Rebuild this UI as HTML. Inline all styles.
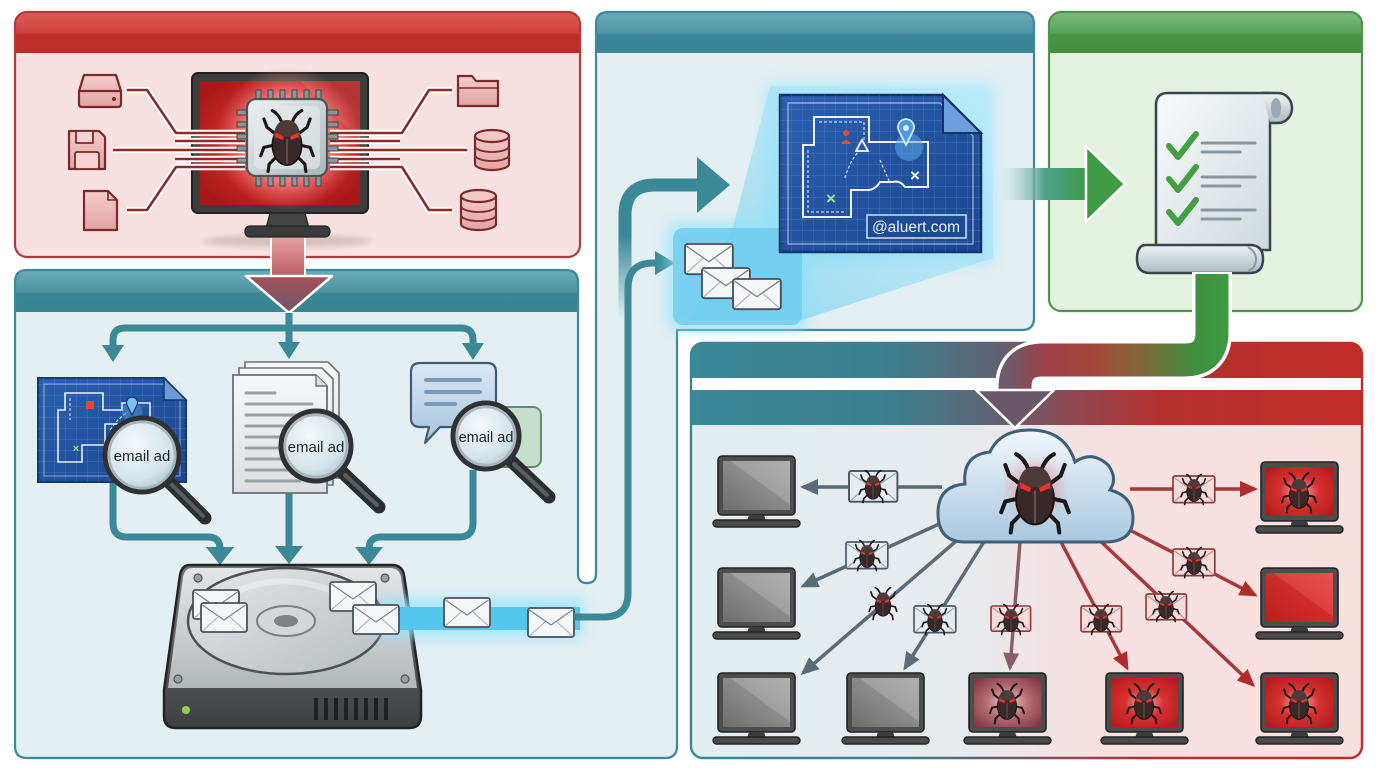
<!DOCTYPE html>
<html><head><meta charset="utf-8"><style>html,body{margin:0;padding:0;background:#fff}svg{display:block}</style></head>
<body>
<svg width="1376" height="768" viewBox="0 0 1376 768" xmlns="http://www.w3.org/2000/svg" font-family="Liberation Sans, sans-serif">
<defs>
<linearGradient id="gRedHdr" x1="0" y1="0" x2="0" y2="1"><stop offset="0" stop-color="#dc5b57"/><stop offset=".5" stop-color="#d0433f"/><stop offset=".56" stop-color="#bd2d2a"/><stop offset="1" stop-color="#bd2d2a"/></linearGradient>
<linearGradient id="gTealHdr" x1="0" y1="0" x2="0" y2="1"><stop offset="0" stop-color="#6aaab8"/><stop offset=".5" stop-color="#4f97a6"/><stop offset=".56" stop-color="#3b8696"/><stop offset="1" stop-color="#3a8494"/></linearGradient>
<linearGradient id="gGreenHdr" x1="0" y1="0" x2="0" y2="1"><stop offset="0" stop-color="#7dba7c"/><stop offset=".5" stop-color="#5aa45a"/><stop offset=".56" stop-color="#449342"/><stop offset="1" stop-color="#428f40"/></linearGradient>
<linearGradient id="gBRHdr" gradientUnits="userSpaceOnUse" x1="691" y1="0" x2="1362" y2="0"><stop offset="0" stop-color="#3a8797"/><stop offset=".3" stop-color="#3d7f8e"/><stop offset=".45" stop-color="#5e6272"/><stop offset=".56" stop-color="#8c4a55"/><stop offset=".7" stop-color="#b3302f"/><stop offset="1" stop-color="#c02c2a"/></linearGradient>
<linearGradient id="gBRBody" gradientUnits="userSpaceOnUse" x1="691" y1="0" x2="1362" y2="0"><stop offset="0" stop-color="#e1eef2"/><stop offset=".4" stop-color="#e7ebee"/><stop offset=".6" stop-color="#f7e1e1"/><stop offset="1" stop-color="#f9e1e0"/></linearGradient>
<radialGradient id="gScr" cx=".5" cy=".5" r=".6"><stop offset="0" stop-color="#ff8a8a"/><stop offset=".35" stop-color="#dc3232"/><stop offset="1" stop-color="#a81818"/></radialGradient>
<radialGradient id="gChipGlow" cx=".5" cy=".5" r=".5"><stop offset="0" stop-color="#fff" stop-opacity=".9"/><stop offset=".6" stop-color="#ffb0b0" stop-opacity=".6"/><stop offset="1" stop-color="#ff8080" stop-opacity="0"/></radialGradient>
<linearGradient id="gChip" x1="0" y1="0" x2="1" y2="1"><stop offset="0" stop-color="#eef2f4"/><stop offset="1" stop-color="#aab6bc"/></linearGradient>
<linearGradient id="gIcon" x1="0" y1="0" x2="0" y2="1"><stop offset="0" stop-color="#f4cccb"/><stop offset="1" stop-color="#e2a3a2"/></linearGradient>
<linearGradient id="gShaft" x1="0" y1="0" x2="0" y2="1"><stop offset="0" stop-color="#e9a0a2"/><stop offset="1" stop-color="#b85a60"/></linearGradient>
<linearGradient id="gHead" x1="0" y1="0" x2="0" y2="1"><stop offset="0" stop-color="#a5505a"/><stop offset="1" stop-color="#6a5a68"/></linearGradient>
<linearGradient id="gBp" x1="0" y1="0" x2="1" y2="1"><stop offset="0" stop-color="#2a5fae"/><stop offset="1" stop-color="#1b4690"/></linearGradient>
<pattern id="grid" width="11" height="11" patternUnits="userSpaceOnUse"><path d="M11,0 V11 M0,11 H11" stroke="#5a8bd2" stroke-width=".7" fill="none" opacity=".7"/></pattern>
<radialGradient id="gLens" cx=".4" cy=".35" r=".7"><stop offset="0" stop-color="#f4f9fb"/><stop offset=".7" stop-color="#d3e3ea"/><stop offset="1" stop-color="#a9c2cc"/></radialGradient>
<linearGradient id="gPage" x1="0" y1="0" x2="0" y2="1"><stop offset="0" stop-color="#f6f7f8"/><stop offset="1" stop-color="#dcdfe1"/></linearGradient>
<linearGradient id="gBubble" x1="0" y1="0" x2="0" y2="1"><stop offset="0" stop-color="#dbe8f4"/><stop offset="1" stop-color="#a6c4de"/></linearGradient>
<linearGradient id="gHddTop" x1="0" y1="0" x2="0" y2="1"><stop offset="0" stop-color="#e3e6e8"/><stop offset="1" stop-color="#b3b8bb"/></linearGradient>
<linearGradient id="gHddFront" x1="0" y1="0" x2="0" y2="1"><stop offset="0" stop-color="#76797c"/><stop offset="1" stop-color="#3d4043"/></linearGradient>
<linearGradient id="gPlatter" x1="0" y1="0" x2="1" y2="1"><stop offset="0" stop-color="#e4e7e9"/><stop offset="1" stop-color="#b9bec1"/></linearGradient>
<linearGradient id="gUpArrow" gradientUnits="userSpaceOnUse" x1="0" y1="320" x2="0" y2="235"><stop offset="0" stop-color="#3a8898" stop-opacity="0"/><stop offset="1" stop-color="#3a8898"/></linearGradient>
<linearGradient id="gWedge" x1="0" y1="1" x2="1" y2="0"><stop offset="0" stop-color="#5cc9ee" stop-opacity=".85"/><stop offset="1" stop-color="#b9ebfa" stop-opacity=".5"/></linearGradient>
<linearGradient id="gGreenShaft" gradientUnits="userSpaceOnUse" x1="1000" y1="0" x2="1090" y2="0"><stop offset="0" stop-color="#cfe9e6" stop-opacity=".2"/><stop offset=".5" stop-color="#4fa08a"/><stop offset="1" stop-color="#3e9a46"/></linearGradient>
<linearGradient id="gSheet" x1="0" y1="0" x2="1" y2="1"><stop offset="0" stop-color="#f9fbfc"/><stop offset="1" stop-color="#cfd9de"/></linearGradient>
<linearGradient id="gCurl" x1="0" y1="0" x2="0" y2="1"><stop offset="0" stop-color="#eef2f4"/><stop offset="1" stop-color="#aebbc2"/></linearGradient>
<linearGradient id="gGR" gradientUnits="userSpaceOnUse" x1="1230" y1="0" x2="995" y2="0"><stop offset="0" stop-color="#3f9a42"/><stop offset=".15" stop-color="#3f9040"/><stop offset=".35" stop-color="#7a6a3a"/><stop offset=".57" stop-color="#a3483a"/><stop offset=".78" stop-color="#a04048"/><stop offset=".95" stop-color="#6e5a6a"/></linearGradient>
<linearGradient id="gCloud" x1="0" y1="0" x2="0" y2="1"><stop offset="0" stop-color="#f2f7fb"/><stop offset="1" stop-color="#a9c8df"/></linearGradient>
<linearGradient id="gGray" x1="0" y1="1" x2="1" y2="0"><stop offset="0" stop-color="#6e6e6e"/><stop offset=".55" stop-color="#8c8c8c"/><stop offset=".56" stop-color="#a0a0a0"/><stop offset="1" stop-color="#b0b0b0"/></linearGradient>
<radialGradient id="gRedBug" cx=".5" cy=".5" r=".65"><stop offset="0" stop-color="#f7b0b0"/><stop offset=".45" stop-color="#d83030"/><stop offset="1" stop-color="#b41c1c"/></radialGradient>
<radialGradient id="gMauve" cx=".5" cy=".5" r=".65"><stop offset="0" stop-color="#ecc9cb"/><stop offset=".5" stop-color="#b66a72"/><stop offset="1" stop-color="#7e3a44"/></radialGradient>
<linearGradient id="gRedFlat" x1="0" y1="1" x2="1" y2="0"><stop offset="0" stop-color="#bf1e1e"/><stop offset=".55" stop-color="#cf2c2c"/><stop offset=".56" stop-color="#dc4040"/><stop offset="1" stop-color="#e45250"/></linearGradient>
<filter id="blur6" x="-30%" y="-30%" width="160%" height="160%"><feGaussianBlur stdDeviation="6"/></filter>
<filter id="blur3" x="-30%" y="-30%" width="160%" height="160%"><feGaussianBlur stdDeviation="3"/></filter>
<marker id="mG" markerUnits="userSpaceOnUse" markerWidth="18" markerHeight="16" refX="15" refY="8" orient="auto"><path d="M0,0 L18,8 L0,16 Z" fill="#5b6b75"/></marker>
<marker id="mM" markerUnits="userSpaceOnUse" markerWidth="18" markerHeight="16" refX="15" refY="8" orient="auto"><path d="M0,0 L18,8 L0,16 Z" fill="#8b5d66"/></marker>
<marker id="mR" markerUnits="userSpaceOnUse" markerWidth="18" markerHeight="16" refX="15" refY="8" orient="auto"><path d="M0,0 L18,8 L0,16 Z" fill="#b02c2c"/></marker>
<g id="bug">
 <g stroke="#1c1616" stroke-width="3" fill="none" stroke-linecap="round" stroke-linejoin="round">
  <path d="M-5,-17 Q-8,-25 -14,-28"/><path d="M5,-17 Q8,-25 14,-28"/>
  <path d="M-11,-6 L-19,-12 L-22,-20"/><path d="M11,-6 L19,-12 L22,-20"/>
  <path d="M-13,5 L-22,7 L-25,15"/><path d="M13,5 L22,7 L25,15"/>
  <path d="M-10,16 L-17,23 L-18,30"/><path d="M10,16 L17,23 L18,30"/>
 </g>
 <ellipse cx="0" cy="5" rx="14" ry="19" fill="#3a2828" stroke="#191212" stroke-width="1.5"/>
 <path d="M-13,-1 Q-12,-19 0,-19 Q12,-19 13,-1 Q0,-6 -13,-1Z" fill="#4f3a3a"/>
 <path d="M-11,-7 L-3,-3 L-4,0 L-11,-3Z" fill="#ff2f2f"/>
 <path d="M11,-7 L3,-3 L4,0 L11,-3Z" fill="#ff2f2f"/>
 <line x1="0" y1="-1" x2="0" y2="23" stroke="#6b5353" stroke-width="1.5"/>
</g>
<g id="env">
 <rect x="0" y="0" width="46" height="29" rx="2.5" fill="#f4f6f8" stroke="#46525a" stroke-width="1.8"/>
 <path d="M1.5,2 L23,17 L44.5,2" fill="none" stroke="#7d878d" stroke-width="1.3"/>
 <path d="M2,27.5 L17,14 M44,27.5 L29,14" stroke="#a9b1b6" stroke-width="1.1"/>
</g>
<g id="envB">
 <rect x="0" y="0" width="44" height="28" rx="2" fill="#e5edf2" stroke="#4d5a63" stroke-width="1.8"/>
 <path d="M1.5,2 L22,16 L42.5,2 M2,26.5 L16,14 M42,26.5 L28,14" fill="none" stroke="#98a4ab" stroke-width="1.1"/>
</g>
<g id="envP">
 <rect x="0" y="0" width="44" height="28" rx="2" fill="#f6dcdc" stroke="#8e3c3c" stroke-width="1.8"/>
 <path d="M1.5,2 L22,16 L42.5,2 M2,26.5 L16,14 M42,26.5 L28,14" fill="none" stroke="#c08a8a" stroke-width="1.1"/>
</g>
<g id="monF">
 <rect x="0" y="0" width="77" height="59" rx="4" fill="#4d4d4d" stroke="#222" stroke-width="1.6"/>
 <path d="M31,59 H46 L48,65 H29 Z" fill="#3c3c3c"/>
 <rect x="-5" y="64" width="87" height="7" rx="3.5" fill="#4a4a4a" stroke="#222" stroke-width="1.4"/>
</g>
</defs>

<!-- ========== RED PANEL ========== -->
<rect x="15" y="12" width="565" height="245" rx="12" fill="#f8e2e1"/>
<path d="M15,53 V24 Q15,12 27,12 H568 Q580,12 580,24 V53 Z" fill="url(#gRedHdr)"/>
<rect x="15" y="12" width="565" height="245" rx="12" fill="none" stroke="#b3393a" stroke-width="2.2"/>

<!-- ========== LEFT TEAL + MIDDLE union ========== -->
<path d="M27,270 H566 Q578,270 578,282 V574 Q578,583 587,583 Q596,583 596,574 V24 Q596,12 608,12 H1022 Q1034,12 1034,24 V318 Q1034,330 1022,330 H677 V746 Q677,758 665,758 H27 Q15,758 15,746 V282 Q15,270 27,270 Z" fill="#e3eff2"/>
<path d="M15,312 V282 Q15,270 27,270 H566 Q578,270 578,282 V312 Z" fill="url(#gTealHdr)"/>
<path d="M596,53 V24 Q596,12 608,12 H1022 Q1034,12 1034,24 V53 Z" fill="url(#gTealHdr)"/>
<path d="M27,270 H566 Q578,270 578,282 V574 Q578,583 587,583 Q596,583 596,574 V24 Q596,12 608,12 H1022 Q1034,12 1034,24 V318 Q1034,330 1022,330 H677 V746 Q677,758 665,758 H27 Q15,758 15,746 V282 Q15,270 27,270 Z" fill="none" stroke="#3c8999" stroke-width="2.2"/>

<!-- ========== GREEN PANEL ========== -->
<rect x="1049" y="12" width="313" height="299" rx="12" fill="#e5f2e1"/>
<path d="M1049,53 V24 Q1049,12 1061,12 H1350 Q1362,12 1362,24 V53 Z" fill="url(#gGreenHdr)"/>
<rect x="1049" y="12" width="313" height="299" rx="12" fill="none" stroke="#4e944e" stroke-width="2.2"/>

<!-- ========== BOTTOM RIGHT PANEL ========== -->
<rect x="691" y="343" width="671" height="415" rx="12" fill="url(#gBRBody)"/>
<path d="M691,425 V355 Q691,343 703,343 H1350 Q1362,343 1362,355 V425 Z" fill="url(#gBRHdr)"/>
<rect x="692" y="378" width="305" height="12" fill="#fff"/>
<rect x="1032" y="378" width="329" height="12" fill="#fff"/>
<rect x="691" y="343" width="671" height="415" rx="12" fill="none" stroke="url(#gBRHdr)" stroke-width="2.4"/>

<!-- ========== RED PANEL CONTENT ========== -->
<ellipse cx="287" cy="241" rx="85" ry="6" fill="#000" opacity=".15" filter="url(#blur3)"/>
<rect x="192" y="73" width="176" height="140" rx="6" fill="#3d3d3d" stroke="#222" stroke-width="2"/>
<rect x="200" y="81" width="160" height="124" fill="url(#gScr)"/>
<path d="M300,81 H360 V140 Z" fill="#fff" opacity=".12"/>
<path d="M270,213 H305 L309,228 H266 Z" fill="#444" stroke="#222" stroke-width="1.2"/>
<rect x="245" y="226" width="85" height="11" rx="5" fill="#3a3a3a" stroke="#222" stroke-width="1.2"/>
<circle cx="287" cy="138" r="72" fill="url(#gChipGlow)"/>

<!-- connector lines -->
<g fill="none" stroke="#fff" stroke-width="6.5" stroke-linejoin="round">
 <path d="M127,90 H147 L176,133 H245"/><path d="M175,141 H245"/><path d="M113,150 H245"/><path d="M175,159 H245"/><path d="M127,210 H147 L176,167 H245"/>
 <path d="M452,90 H429 L402,133 H330"/><path d="M400,141 H330"/><path d="M467,150 H330"/><path d="M400,159 H330"/><path d="M452,210 H429 L402,167 H330"/>
</g>
<g fill="none" stroke="#8b2b2b" stroke-width="2.6" stroke-linejoin="round">
 <path d="M127,90 H147 L176,133 H245"/><path d="M175,141 H245"/><path d="M113,150 H245"/><path d="M175,159 H245"/><path d="M127,210 H147 L176,167 H245"/>
 <path d="M452,90 H429 L402,133 H330"/><path d="M400,141 H330"/><path d="M467,150 H330"/><path d="M400,159 H330"/><path d="M452,210 H429 L402,167 H330"/>
</g>

<!-- chip -->
<g fill="#8e9498" stroke="#444" stroke-width="1">
 <rect x="256" y="90" width="5" height="11"/><rect x="268" y="90" width="5" height="11"/><rect x="280" y="90" width="5" height="11"/><rect x="292" y="90" width="5" height="11"/><rect x="304" y="90" width="5" height="11"/><rect x="316" y="90" width="5" height="11"/>
 <rect x="256" y="175" width="5" height="11"/><rect x="268" y="175" width="5" height="11"/><rect x="280" y="175" width="5" height="11"/><rect x="292" y="175" width="5" height="11"/><rect x="304" y="175" width="5" height="11"/><rect x="316" y="175" width="5" height="11"/>
 <rect x="237" y="110" width="12" height="5"/><rect x="237" y="122" width="12" height="5"/><rect x="237" y="134" width="12" height="5"/><rect x="237" y="146" width="12" height="5"/><rect x="237" y="158" width="12" height="5"/>
 <rect x="326" y="110" width="12" height="5"/><rect x="326" y="122" width="12" height="5"/><rect x="326" y="134" width="12" height="5"/><rect x="326" y="146" width="12" height="5"/><rect x="326" y="158" width="12" height="5"/>
</g>
<rect x="247" y="99" width="80" height="77" rx="9" fill="url(#gChip)" stroke="#4d5357" stroke-width="2.2"/>
<rect x="254" y="106" width="66" height="63" rx="6" fill="#e2e8eb" opacity=".7"/>
<use href="#bug" transform="translate(287,140) scale(1.05)"/>

<!-- left icons -->
<g stroke="#7a2a2a" stroke-width="2.2" fill="url(#gIcon)" stroke-linejoin="round">
 <path d="M84,75 H116 L121,91 V104 Q121,107 118,107 H82 Q79,107 79,104 V91 Z"/>
 <path d="M79,91 H121" fill="none"/>
 <path d="M69,131 H99 L105,137 V169 H69 Z"/>
 <rect x="76" y="131" width="17" height="12" fill="#f6d4d3" stroke-width="1.8"/>
 <rect x="75" y="152" width="24" height="17" rx="2" fill="#f6d4d3" stroke-width="1.8"/>
 <path d="M84,191 H108 L117,200 V230 H84 Z"/>
 <path d="M108,191 V200 H117" fill="none" stroke-width="1.6"/>
 <path d="M458,76 H472 L476,81 H498 V106 H458 Z"/>
 <path d="M458,88 H498" fill="none" stroke-width="1.6"/>
 <path d="M475,136 V164 A17,6 0 0 0 509,164 V136"/>
 <ellipse cx="492" cy="136" rx="17" ry="6" fill="#f3c9c8"/>
 <path d="M475,146 A17,6 0 0 0 509,146 M475,155 A17,6 0 0 0 509,155" fill="none" stroke-width="1.8"/>
 <path d="M461,196 V224 A17.5,6 0 0 0 496,224 V196"/>
 <ellipse cx="478.5" cy="196" rx="17.5" ry="6" fill="#f3c9c8"/>
 <path d="M461,206 A17.5,6 0 0 0 496,206 M461,215 A17.5,6 0 0 0 496,215" fill="none" stroke-width="1.8"/>
</g>
<circle cx="114" cy="99" r="2" fill="#7a2a2a"/>

<!-- red down arrow -->
<rect x="271" y="238" width="34" height="40" fill="url(#gShaft)"/>
<path d="M271,238 V278 M305,238 V278" stroke="#fff" stroke-width="2"/>
<polygon points="246,276 332,276 289,313" fill="url(#gHead)" stroke="#fff" stroke-width="2.5" stroke-linejoin="round"/>

<!-- ========== LEFT TEAL CONTENT ========== -->
<g fill="none" stroke="#3a8898" stroke-width="7" stroke-linejoin="round">
 <path d="M289,313 V346"/>
 <path d="M289,328 H125 Q113,328 113,340 V350"/>
 <path d="M289,328 H461 Q473,328 473,340 V348"/>
 <path d="M113,483 V523 Q113,537 127,537 H208 Q220,537 220,549 V551"/>
 <path d="M289,493 V550"/>
 <path d="M473,470 V523 Q473,537 459,537 H381 Q369,537 369,549 V551"/>
</g>
<g fill="#3a8898">
 <polygon points="102,345 124,345 113,362"/>
 <polygon points="278,342 300,342 289,359"/>
 <polygon points="462,343 484,343 473,360"/>
 <polygon points="206,547 234,547 220,565"/>
 <polygon points="275,546 303,546 289,564"/>
 <polygon points="355,547 383,547 369,565"/>
</g>

<!-- small blueprint -->
<path d="M38,378 H164 L186,400 V482 H38 Z" fill="url(#gBp)" stroke="#12386e" stroke-width="2"/>
<path d="M38,378 H164 L186,400 V482 H38 Z" fill="url(#grid)"/>
<rect x="44" y="384" width="136" height="92" fill="none" stroke="#cfe0f7" stroke-width="1" opacity=".6"/>
<path d="M164,378 V400 H186 Z" fill="#6d9bd8" stroke="#12386e" stroke-width="1.5"/>
<path d="M65,393 H103 V410 H122 V403 H150 V424 H105 V445 H82 V462 H58 V410 H65 Z" fill="none" stroke="#e8f0fc" stroke-width="1.6"/>
<path d="M70,398 V420 M110,430 Q118,418 128,412" fill="none" stroke="#e8f0fc" stroke-width="1" stroke-dasharray="3 2"/>
<circle cx="132" cy="412" r="10" fill="#5aa0e0" opacity=".45"/>
<path d="M132,415 L127,405 A5.5,5.5 0 1 1 137,405 Z" fill="#7fc0f0" stroke="#123a70" stroke-width="1.2"/>
<rect x="86" y="401" width="8" height="8" fill="#d84a3a"/>
<text x="76" y="452" font-size="11" fill="#9be07a" font-weight="bold" text-anchor="middle">×</text>

<!-- documents -->
<path d="M245,362 H328 L339,373 V478 H245 Z" fill="url(#gPage)" stroke="#6b7075" stroke-width="1.6"/>
<path d="M239,368 H322 L333,379 V485 H239 Z" fill="url(#gPage)" stroke="#6b7075" stroke-width="1.6"/>
<path d="M233,375 H316 L327,386 V493 H233 Z" fill="url(#gPage)" stroke="#6b7075" stroke-width="1.8"/>
<path d="M316,375 V386 H327" fill="#d8dbdd" stroke="#6b7075" stroke-width="1.4"/>
<g stroke="#9aa1a6" stroke-width="3" stroke-linecap="round">
 <path d="M246,393 H275 M246,404 H312 M246,415 H312 M246,426 H312 M246,437 H312 M246,448 H312 M246,459 H312 M246,470 H312 M246,481 H300"/>
</g>

<!-- chat bubbles -->
<rect x="478" y="407" width="63" height="60" rx="8" fill="#c4e0cc" stroke="#5e8d6c" stroke-width="2"/>
<path d="M420,363 H487 Q496,363 496,372 V418 Q496,427 487,427 H440 L425,443 L429,427 H420 Q411,427 411,418 V372 Q411,363 420,363 Z" fill="url(#gBubble)" stroke="#3f5e75" stroke-width="2.2" stroke-linejoin="round"/>
<g stroke="#7b9bb8" stroke-width="4" stroke-linecap="round"><path d="M426,380 H480 M426,392 H480 M426,404 H455"/></g>

<!-- magnifiers -->
<g stroke-linecap="round">
 <line x1="168" y1="481" x2="205" y2="518" stroke="#2b2e31" stroke-width="13"/>
 <line x1="172" y1="485" x2="203" y2="516" stroke="#5a5f63" stroke-width="4"/>
 <line x1="341" y1="471" x2="379" y2="507" stroke="#2b2e31" stroke-width="13"/>
 <line x1="345" y1="475" x2="377" y2="505" stroke="#5a5f63" stroke-width="4"/>
 <line x1="510" y1="460" x2="549" y2="497" stroke="#2b2e31" stroke-width="13"/>
 <line x1="514" y1="464" x2="547" y2="495" stroke="#5a5f63" stroke-width="4"/>
</g>
<circle cx="142" cy="455" r="37" fill="url(#gLens)" stroke="#2f3235" stroke-width="5"/>
<circle cx="142" cy="455" r="33" fill="none" stroke="#a9b3b8" stroke-width="2.5"/>
<text x="142" y="461" font-size="15" fill="#1e2428" text-anchor="middle">email ad</text>
<circle cx="316" cy="446" r="35" fill="url(#gLens)" stroke="#2f3235" stroke-width="5"/>
<circle cx="316" cy="446" r="31" fill="none" stroke="#a9b3b8" stroke-width="2.5"/>
<text x="316" y="452" font-size="15" fill="#1e2428" text-anchor="middle">email ad</text>
<circle cx="486" cy="436" r="33" fill="url(#gLens)" stroke="#2f3235" stroke-width="5"/>
<circle cx="486" cy="436" r="29" fill="none" stroke="#a9b3b8" stroke-width="2.5"/>
<text x="486" y="442" font-size="14.5" fill="#1e2428" text-anchor="middle">email ad</text>

<!-- HDD -->
<path d="M190,565 H392 Q402,565 404,575 L421,690 V716 Q421,728 409,728 H176 Q164,728 164,716 V690 L180,575 Q182,565 190,565 Z" fill="url(#gHddFront)" stroke="#222" stroke-width="2.5"/>
<path d="M192,568 H390 Q399,568 401,577 L417,688 H168 L183,577 Q185,568 192,568 Z" fill="url(#gHddTop)"/>
<ellipse cx="286" cy="621" rx="98" ry="53" fill="url(#gPlatter)" stroke="#4d5155" stroke-width="2.5"/>
<path d="M220,600 Q286,560 360,605" fill="none" stroke="#fff" stroke-width="6" opacity=".35"/>
<ellipse cx="286" cy="621" rx="29" ry="15" fill="#d3d7da" stroke="#7a7f83" stroke-width="2"/>
<ellipse cx="286" cy="621" rx="12" ry="6" fill="#7d8286"/>
<g fill="#9a9ea1" stroke="#555" stroke-width="1.2">
 <circle cx="198" cy="578" r="4"/><circle cx="385" cy="578" r="4"/><circle cx="178" cy="679" r="4"/><circle cx="405" cy="679" r="4"/>
</g>
<circle cx="186" cy="710" r="4" fill="#8fd14f"/>
<g fill="#1e2022"><rect x="314" y="698" width="4" height="22"/><rect x="324" y="698" width="4" height="22"/><rect x="334" y="698" width="4" height="22"/><rect x="344" y="698" width="4" height="22"/><rect x="354" y="698" width="4" height="22"/><rect x="364" y="698" width="4" height="22"/><rect x="374" y="698" width="4" height="22"/><rect x="384" y="698" width="4" height="22"/></g>

<!-- beam -->
<rect x="378" y="598" width="205" height="40" fill="#8fe4ff" opacity=".7" filter="url(#blur6)"/>
<rect x="383" y="607" width="197" height="23" fill="#55c6ec"/>
<use href="#env" transform="translate(193,590)"/>
<use href="#env" transform="translate(201,603)"/>
<use href="#env" transform="translate(330,582)"/>
<use href="#env" transform="translate(353,605)"/>
<use href="#env" transform="translate(444,598)"/>
<use href="#env" transform="translate(528,608)"/>

<!-- middle arrows -->
<path d="M574,617 H604 Q628,617 628,593 V288 Q628,263 653,263 H660" fill="none" stroke="#3a8898" stroke-width="7"/>
<polygon points="655,251 675,263 655,275" fill="#3a8898"/>
<path d="M625,320 V215 Q625,185 655,185 H700" fill="none" stroke="url(#gUpArrow)" stroke-width="13"/>
<polygon points="697,157 730,185 697,213" fill="#3a8898"/>

<!-- ========== MIDDLE CONTENT ========== -->
<rect x="764" y="82" width="232" height="183" rx="10" fill="#9be6ff" opacity=".55" filter="url(#blur6)"/>
<polygon points="770,86 992,88 993,258 802,320 690,320 732,230" fill="url(#gWedge)" opacity=".75"/>
<rect x="666" y="221" width="143" height="111" rx="12" fill="#8fe3ff" opacity=".6" filter="url(#blur6)"/>
<rect x="673" y="228" width="129" height="97" rx="10" fill="#6dcbee" opacity=".8"/>
<use href="#env" transform="translate(685,244) scale(1.04)"/>
<use href="#env" transform="translate(702,268) scale(1.04)"/>
<use href="#env" transform="translate(733,279) scale(1.04)"/>

<!-- big blueprint -->
<path d="M780,95 H943 L981,133 V252 H780 Z" fill="url(#gBp)" stroke="#10346a" stroke-width="2.5"/>
<path d="M780,95 H943 L981,133 V252 H780 Z" fill="url(#grid)"/>
<path d="M788,103 H940 L973,136 V244 H788 Z" fill="none" stroke="#d7e6fa" stroke-width="1.2" opacity=".7"/>
<path d="M943,95 V133 H981 Z" fill="#6d9fdc" stroke="#10346a" stroke-width="2"/>
<path d="M814,117 H869 V142 H928 V187 H905 Q900,180 893,182 H880 Q875,190 868,190 H851 V217 H803 V145 H814 Z" fill="none" stroke="#eaf2ff" stroke-width="2"/>
<path d="M819,122 H864 V146 M808,150 V212 H846 M845,178 Q850,160 860,150 M880,160 Q885,172 890,183" fill="none" stroke="#eaf2ff" stroke-width="1" stroke-dasharray="3 2"/>
<circle cx="909" cy="147" r="14" fill="#5aa6e6" opacity=".55"/>
<path d="M906,145 L899,131 A8,8 0 1 1 913,131 Z" fill="#4f9be0" stroke="#d9ecff" stroke-width="1.8"/>
<circle cx="906" cy="128" r="3" fill="#d9ecff"/>
<circle cx="846" cy="133" r="3" fill="#e0493a"/>
<path d="M841,144 Q846,136 851,144 Z" fill="#e0493a"/>
<polygon points="862,140 868,151 856,151" fill="none" stroke="#fff" stroke-width="1.8"/>
<text x="915" y="181" font-size="17" fill="#f2f6ff" font-weight="bold" text-anchor="middle">×</text>
<text x="831" y="204" font-size="17" fill="#a6e08a" font-weight="bold" text-anchor="middle">×</text>
<rect x="867" y="215" width="99" height="23" fill="#1e4a92" stroke="#cfe0f5" stroke-width="1.5"/>
<text x="916" y="232" font-size="15.5" fill="#eaf2fc" text-anchor="middle">@aluert.com</text>

<!-- green arrow -->
<rect x="1001" y="168" width="88" height="32" fill="url(#gGreenShaft)"/>
<polygon points="1086,146 1125,184 1086,222" fill="#3f9a45" stroke="#fff" stroke-width="2.5" stroke-linejoin="round"/>

<!-- scroll -->
<path d="M1156,105 Q1156,93 1168,93 H1270 V250 H1156 Z" fill="url(#gSheet)" stroke="#38454e" stroke-width="2.5"/>
<path d="M1262,93 H1278 A14,15 0 0 1 1278,123 H1270" fill="url(#gCurl)" stroke="#38454e" stroke-width="2.5"/>
<ellipse cx="1276" cy="108" rx="5" ry="10" fill="#9aa8b0"/>
<path d="M1146,245 H1250 Q1263,245 1263,259 Q1263,273 1250,273 H1150 Q1137,273 1137,259 Q1137,245 1146,245 Z" fill="url(#gCurl)" stroke="#38454e" stroke-width="2.5"/>
<path d="M1248,247 Q1256,252 1256,259 Q1256,268 1248,271" fill="none" stroke="#8a98a0" stroke-width="2"/>
<g fill="none" stroke="#41a041" stroke-width="6" stroke-linecap="round" stroke-linejoin="round">
 <path d="M1169,146 L1178,157 L1196,134"/><path d="M1169,179 L1178,190 L1196,167"/><path d="M1169,212 L1178,223 L1196,200"/>
</g>
<g stroke="#8a98a2" stroke-width="3" stroke-linecap="round">
 <path d="M1202,143 H1255 M1202,152 H1240 M1202,177 H1255 M1202,186 H1240 M1202,210 H1255 M1202,219 H1240"/>
</g>

<!-- green-red arrow -->
<path d="M1212,272 V332 Q1212,360 1184,360 H1043 Q1015,360 1015,388 V392" fill="none" stroke="#fff" stroke-width="40"/>
<path d="M1212,274 V332 Q1212,360 1184,360 H1043 Q1015,360 1015,388 V393" fill="none" stroke="url(#gGR)" stroke-width="33"/>
<polygon points="976,390 1054,390 1015,428" fill="#6a5868" stroke="#fff" stroke-width="2.5" stroke-linejoin="round"/>

<!-- ========== BOTTOM RIGHT CONTENT ========== -->
<g fill="none" stroke-width="3.5">
 <path d="M942,487 L803,487" stroke="#5b6b75" marker-end="url(#mG)"/>
 <path d="M948,520 L803,586" stroke="#5b6b75" marker-end="url(#mG)"/>
 <path d="M962,536 L803,673" stroke="#5b6b75" marker-end="url(#mG)"/>
 <path d="M985,540 L905,668" stroke="#5b6b75" marker-end="url(#mG)"/>
 <path d="M1020,542 L1010,668" stroke="#8b5d66" marker-end="url(#mM)"/>
 <path d="M1060,540 L1127,668" stroke="#a8393b" marker-end="url(#mR)"/>
 <path d="M1095,536 L1253,685" stroke="#a8393b" marker-end="url(#mR)"/>
 <path d="M1122,526 L1255,595" stroke="#a8393b" marker-end="url(#mR)"/>
 <path d="M1130,489 L1255,489" stroke="#a8393b" marker-end="url(#mR)"/>
</g>

<!-- cloud -->
<path d="M965,542 Q938,542 938,513 Q938,486 965,484 Q962,455 990,452 Q1000,430 1030,430 Q1065,430 1075,462 Q1092,450 1108,465 Q1118,478 1110,490 Q1133,496 1133,518 Q1133,542 1105,542 Z" fill="url(#gCloud)" stroke="#3f5f78" stroke-width="3"/>
<circle cx="1035" cy="488" r="26" fill="#ff4040" opacity=".25" filter="url(#blur6)"/>
<use href="#bug" transform="translate(1035,492) scale(1.35)"/>

<!-- envelopes on connectors -->
<use href="#envB" transform="translate(849,471) scale(1.1)"/><use href="#bug" transform="translate(873,486) scale(.55)"/>
<use href="#envB" transform="translate(846,542) scale(.95)"/><use href="#bug" transform="translate(867,555) scale(.52)"/>
<use href="#bug" transform="translate(883,603) scale(.55)"/>
<use href="#envB" transform="translate(914,606) scale(.95)"/><use href="#bug" transform="translate(935,619) scale(.52)"/>
<use href="#envP" transform="translate(991,606) scale(.9)"/><use href="#bug" transform="translate(1011,619) scale(.52)"/>
<use href="#envP" transform="translate(1081,606) scale(.92)"/><use href="#bug" transform="translate(1101,619) scale(.52)"/>
<use href="#envP" transform="translate(1146,594) scale(.92)"/><use href="#bug" transform="translate(1166,606) scale(.52)"/>
<use href="#envP" transform="translate(1173,549) scale(.95)"/><use href="#bug" transform="translate(1194,562) scale(.52)"/>
<use href="#envP" transform="translate(1173,476) scale(.95)"/><use href="#bug" transform="translate(1194,489) scale(.52)"/>

<!-- monitors -->
<use href="#monF" transform="translate(718,456)"/><rect x="723" y="461" width="67" height="49" fill="url(#gGray)"/>
<use href="#monF" transform="translate(718,568)"/><rect x="723" y="573" width="67" height="49" fill="url(#gGray)"/>
<use href="#monF" transform="translate(718,673)"/><rect x="723" y="678" width="67" height="49" fill="url(#gGray)"/>
<use href="#monF" transform="translate(847,673)"/><rect x="852" y="678" width="67" height="49" fill="url(#gGray)"/>
<use href="#monF" transform="translate(969,673)"/><rect x="974" y="678" width="67" height="49" fill="url(#gMauve)"/><use href="#bug" transform="translate(1007,703) scale(.68)"/>
<use href="#monF" transform="translate(1106,673)"/><rect x="1111" y="678" width="67" height="49" fill="url(#gRedBug)"/><use href="#bug" transform="translate(1144,703) scale(.68)"/>
<use href="#monF" transform="translate(1261,673)"/><rect x="1266" y="678" width="67" height="49" fill="url(#gRedBug)"/><use href="#bug" transform="translate(1299,703) scale(.68)"/>
<use href="#monF" transform="translate(1261,568)"/><rect x="1266" y="573" width="67" height="49" fill="url(#gRedFlat)"/>
<use href="#monF" transform="translate(1261,462)"/><rect x="1266" y="467" width="67" height="49" fill="url(#gRedBug)"/><use href="#bug" transform="translate(1299,492) scale(.68)"/>
</svg>
</body></html>
